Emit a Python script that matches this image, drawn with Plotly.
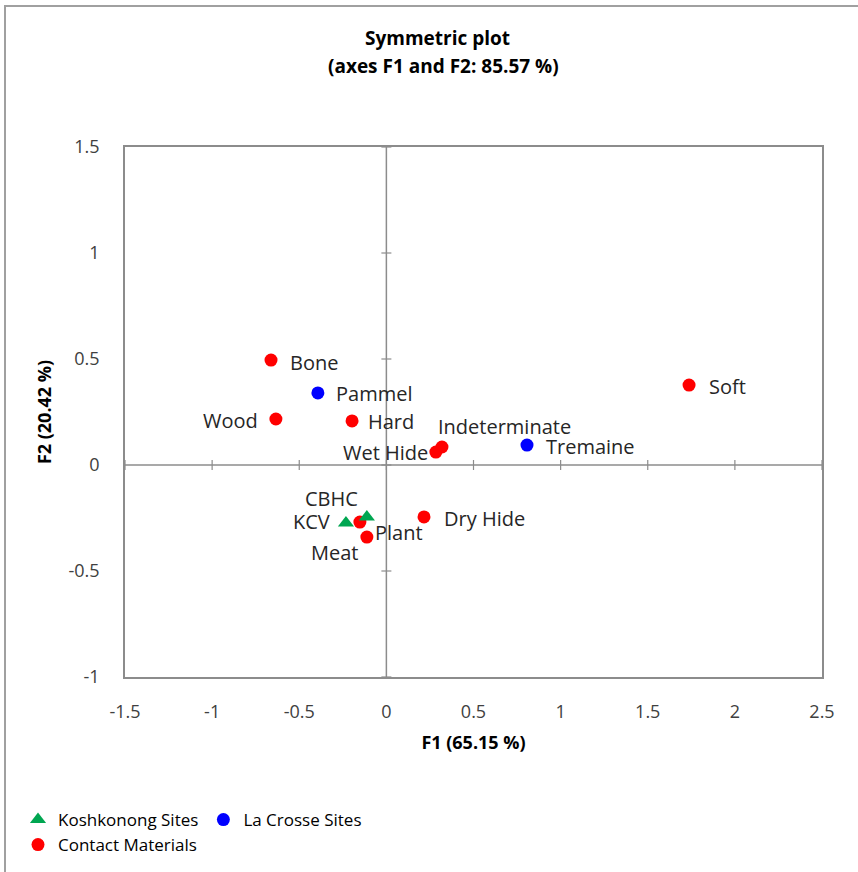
import plotly.graph_objects as go

# Data
kosh_names = ["CBHC", "KCV"]
kosh_f1 = [-0.112, -0.232]
kosh_f2 = [-0.245, -0.274]

lax_names = ["Pammel", "Tremaine"]
lax_f1 = [-0.393, 0.807]
lax_f2 = [0.340, 0.094]

cm_names = ["Bone", "Wood", "Hard", "Indeterminate", "Wet Hide", "Soft", "Dry Hide", "Plant", "Meat"]
cm_f1 = [-0.662, -0.634, -0.197, 0.319, 0.284, 1.737, 0.216, -0.152, -0.112]
cm_f2 = [0.495, 0.217, 0.208, 0.085, 0.061, 0.377, -0.245, -0.269, -0.340]

x_ticks = [-1.5, -1, -0.5, 0, 0.5, 1, 1.5, 2, 2.5]
y_ticks = [-1, -0.5, 0, 0.5, 1, 1.5]

# label placement style: name -> (xanchor, xshift, yshift)
label_style = {
    "Bone": ("left", 17, -2), "Pammel": ("left", 16, -1), "Wood": ("right", -16, -1),
    "Hard": ("left", 14, -1), "Indeterminate": ("left", -6, 20), "Wet Hide": ("right", -6, 0),
    "Tremaine": ("left", 17, -1), "Soft": ("left", 18, -1), "Dry Hide": ("left", 18, -2),
    "CBHC": ("right", -7, 18), "KCV": ("right", -14, 2), "Plant": ("left", 13, -10),
    "Meat": ("right", -7, -15),
}

FONT = "Open Sans"
LBL = dict(family=FONT, size=20, color="#262626")

fig = go.Figure()
fig.add_trace(go.Scatter(x=cm_f1, y=cm_f2, mode="markers", name="Contact Materials",
                         marker=dict(color="#FF0000", size=13, symbol="circle"),
                         legend="legend2"))
fig.add_trace(go.Scatter(x=lax_f1, y=lax_f2, mode="markers", name="La Crosse Sites",
                         marker=dict(color="#0000FF", size=13, symbol="circle"),
                         legend="legend"))
fig.add_trace(go.Scatter(x=kosh_f1, y=kosh_f2, mode="markers", name="Koshkonong Sites",
                         marker=dict(color="#00A651", size=14, symbol="triangle-up"),
                         legend="legend"))

annotations = []
for names, xs, ys in [(cm_names, cm_f1, cm_f2), (lax_names, lax_f1, lax_f2), (kosh_names, kosh_f1, kosh_f2)]:
    for n, xv, yv in zip(names, xs, ys):
        xa, dx, dy = label_style[n]
        annotations.append(dict(x=xv, y=yv, xref="x", yref="y", text=n, showarrow=False,
                                xanchor=xa, yanchor="middle", xshift=dx, yshift=dy, font=LBL))

L, R, T, B = 125, 36, 147, 195
W, H = 858, 872
pw, ph = W - L - R, H - T - B

def px(x):
    return (x - L) / pw

def py(y):
    return (H - B - y) / ph

annotations.append(dict(x=px(437), y=py(38), xref="paper", yref="paper", showarrow=False,
                        text="<b>Symmetric plot</b>", xanchor="center", yanchor="middle",
                        font=dict(family=FONT, size=19, color="#000000")))
annotations.append(dict(x=px(443), y=py(66), xref="paper", yref="paper", showarrow=False,
                        text="<b>(axes F1 and F2: 85.57 %)</b>", xanchor="center", yanchor="middle",
                        font=dict(family=FONT, size=19, color="#000000")))

shapes = []
# zero lines
shapes.append(dict(type="line", xref="x", yref="paper", x0=0, x1=0, y0=0, y1=1,
                   line=dict(color="#8c8c8c", width=1.5)))
shapes.append(dict(type="line", xref="paper", yref="y", x0=0, x1=1, y0=0, y1=0,
                   line=dict(color="#8c8c8c", width=1.5)))
# tick marks on zero lines
tx = 5 / (pw / 4.0)
ty = 5 / (ph / 2.5)
for v in x_ticks:
    shapes.append(dict(type="line", xref="x", yref="y", x0=v, x1=v, y0=-ty, y1=ty,
                       line=dict(color="#8c8c8c", width=1.2)))
for v in y_ticks:
    shapes.append(dict(type="line", xref="x", yref="y", x0=-tx, x1=tx, y0=v, y1=v,
                       line=dict(color="#8c8c8c", width=1.2)))
# outer chart frame (only top and left visible in the crop)
shapes.append(dict(type="rect", xref="paper", yref="paper",
                   x0=px(5), x1=px(W + 20), y0=py(H + 20), y1=py(6),
                   line=dict(color="#a0a0a0", width=2), fillcolor="rgba(0,0,0,0)"))

fig.update_layout(
    width=W, height=H,
    margin=dict(l=L, r=R, t=T, b=B, autoexpand=False),
    paper_bgcolor="white", plot_bgcolor="white",
    font=dict(family=FONT, size=18, color="#404040"),
    xaxis=dict(range=[-1.5, 2.5], tickvals=x_ticks, ticktext=[str(v) for v in x_ticks],
               showgrid=False, zeroline=False, showline=True, linecolor="#8c8c8c",
               linewidth=1.5, mirror=True, ticks="outside", ticklen=18, tickcolor="rgba(0,0,0,0)",
               tickfont=dict(family=FONT, size=18, color="#404040"),
               title=dict(text="<b>F1 (65.15 %)</b>", standoff=14,
                          font=dict(family=FONT, size=18, color="#000000"))),
    yaxis=dict(range=[-1, 1.5], tickvals=y_ticks, ticktext=[str(v) for v in y_ticks],
               showgrid=False, zeroline=False, showline=True, linecolor="#8c8c8c",
               linewidth=1.5, mirror=True, ticks="outside", ticklen=20, tickcolor="rgba(0,0,0,0)",
               tickfont=dict(family=FONT, size=18, color="#404040"),
               title=dict(text="<b>F2 (20.42 %)</b>", standoff=12,
                          font=dict(family=FONT, size=18, color="#000000"))),
    legend=dict(orientation="h", x=px(18), xanchor="left",
                y=py(802), yanchor="top", traceorder="reversed",
                font=dict(family=FONT, size=17, color="#000000"),
                bgcolor="rgba(0,0,0,0)", itemwidth=30),
    legend2=dict(orientation="h", x=px(18), xanchor="left",
                 y=py(827), yanchor="top",
                 font=dict(family=FONT, size=17, color="#000000"),
                 bgcolor="rgba(0,0,0,0)", itemwidth=30),
    shapes=shapes,
    annotations=annotations,
    showlegend=True,
)

fig.write_html("out.html", config={"displayModeBar": False},
               post_script="document.body.style.margin='0';document.body.style.overflow='hidden';")
